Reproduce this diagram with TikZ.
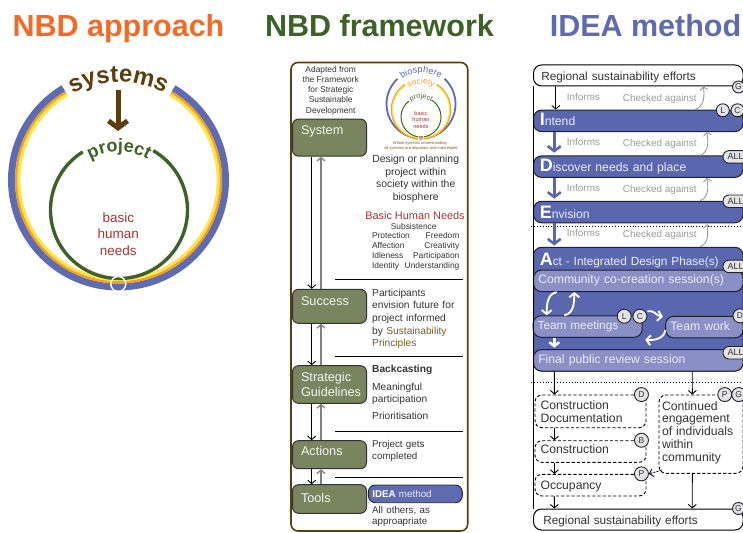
\documentclass[tikz,border=0pt]{standalone}
\usepackage{fontspec}
\setmainfont{Liberation Sans}
\usepackage{tikz}
\usetikzlibrary{arrows.meta,decorations.text}

\definecolor{nbdorange}{HTML}{F26A25}
\definecolor{nbdgreen}{HTML}{3D6127}
\definecolor{nbdblue}{HTML}{5F6BB1}
\definecolor{nbdbrown}{HTML}{5A3F0E}
\definecolor{nbdyellow}{HTML}{FFE34D}
\definecolor{nbdamber}{HTML}{F0A226}
\definecolor{nbdred}{HTML}{A83232}
\definecolor{nbdgold}{HTML}{7A5C1E}
\definecolor{boxgreen}{HTML}{78855F}
\definecolor{barblue}{HTML}{5A66AE}
\definecolor{barlight}{HTML}{8A8FC5}
\definecolor{barrim}{HTML}{22222E}
\definecolor{ink}{HTML}{333333}
\definecolor{faintgray}{HTML}{999999}
\definecolor{tagfill}{HTML}{E4E4E4}

\newcommand{\fs}[2]{\fontsize{#1}{#2}\selectfont}
\newcommand{\initial}[1]{{\color{white}\fontsize{18}{18}\bfseries\selectfont #1}}
% arc with a gap at the top: centre, colour, radius, width, from, to
\newcommand{\ringarc}[6]{\draw [#2, line width=#4pt] ([shift={(#5:#3)}]#1) arc [start angle=#5, end angle=#6, radius=#3];}
% text on an arc: centre, radius, text colour, font, text
\newcommand{\ringtext}[5]{\path [decorate, decoration={text along path, text align=center, text color=#3, text={|#4|#5}}] ([shift={(160:#2)}]#1) arc [start angle=160, end angle=20, radius=#2];}

\tikzstyle{title} = [font=\bfseries\fs{30.5}{32}, text height=23pt, text depth=7pt, inner sep=0pt]
\tikzstyle{frame} = [rectangle, draw=nbdbrown, line width=1.6pt, rounded corners=7pt, minimum width=176.7pt, minimum height=468.5pt]
\tikzstyle{greenblock} = [rectangle, draw=ink, line width=1pt, fill=boxgreen, rounded corners=6pt, minimum width=74pt, inner xsep=8.5pt, inner ysep=0pt,
    text width=57pt, align=left, text=white!92!boxgreen, font=\fs{12.7}{14.7}]
\tikzstyle{note} = [text=ink, inner sep=0pt, text width=90pt, align=left, font=\fs{10.2}{12.7}]
\tikzstyle{centrenote} = [text=ink, inner sep=0pt, align=center]
\tikzstyle{bar} = [rectangle, draw=barrim, line width=1pt, fill=barblue, rounded corners=8pt, minimum width=209.5pt, minimum height=21.5pt,
    inner xsep=6pt, inner ysep=0pt, text width=197pt, align=left, text=white!88!barblue, text height=13pt, font=\fs{12.2}{14}]
\tikzstyle{lightbar} = [bar, fill=barlight, inner xsep=4.5pt, text width=200pt, text height=9pt, text depth=3pt, font=\fs{12.2}{14}]
\tikzstyle{plainbar} = [rectangle, draw=black, line width=1pt, fill=white, rounded corners=8pt, minimum width=209.5pt, minimum height=21pt,
    inner xsep=7.5pt, inner ysep=0pt, text width=194pt, align=left, font=\fs{11.8}{14}, text=ink, text height=10pt, text depth=0pt]
\tikzstyle{dashblock} = [rectangle, draw=black, line width=0.9pt, dash pattern=on 3.2pt off 2pt, rounded corners=7pt, inner xsep=5.5pt, inner ysep=0pt,
    minimum width=111pt, text width=100pt, align=left, font=\fs{12.2}{12.9}, text=ink]
\tikzstyle{faint} = [text=faintgray, font=\fs{9.9}{11}, inner sep=0pt, text height=7.5pt, text depth=2pt, anchor=west]
\tikzstyle{tag} = [circle, draw=barrim, line width=0.9pt, fill=tagfill, minimum size=13pt, inner sep=0pt, font=\fs{8.5}{9}, text=ink]
\tikzstyle{pill} = [rectangle, draw=barrim, line width=0.9pt, fill=tagfill, rounded corners=6pt, minimum width=25pt, minimum height=12.5pt, inner sep=0pt,
    font=\fs{9}{10}, text=ink]
\tikzstyle{arrow} = [draw=black, -{Straight Barb[length=3.5pt,width=8pt]}, line width=0.9pt]
\tikzstyle{greyarrow} = [draw=gray, -{Straight Barb[length=3.5pt,width=8pt]}, line width=1.3pt]
\tikzstyle{faintarrow} = [draw=faintgray, -{Straight Barb[length=3pt,width=8pt]}, line width=0.9pt]
\tikzstyle{bluearrow} = [draw=barblue, -{Straight Barb[length=5pt,width=13pt]}, line width=2.6pt]
\tikzstyle{whitearrow} = [draw=white, -{Straight Barb[length=4pt,width=10pt]}, line width=1.9pt]
\tikzstyle{line} = [draw=black, line width=0.9pt]

\begin{document}
\begin{tikzpicture}[x=1pt, y=1pt]
      \useasboundingbox (0,0) rectangle (743,-532);

      % Titles
      \node [title, text=nbdorange] (approachTitle) at (118.5,-29) {NBD approach};
      \node [title, text=nbdgreen, right of=approachTitle, node distance=261pt] (frameworkTitle) {NBD framework};
      \node [title, text=nbdblue, right of=frameworkTitle, node distance=266pt] (methodTitle) {IDEA method};

      % NBD approach rings
      \coordinate (outerCentre) at (118.5,-180);
      \coordinate (innerCentre) at (119,-210);
      \ringarc{outerCentre}{nbdblue}{107}{7}{59}{-239}
      \ringarc{outerCentre}{nbdamber}{102.3}{2.6}{59}{-239}
      \ringarc{outerCentre}{nbdyellow}{99.6}{3}{59}{-239}
      \ringarc{innerCentre}{nbdgreen}{68.5}{3.4}{60}{-238}
      \node [circle, draw=white, line width=1.4pt, minimum size=15pt, inner sep=0pt] (bottomKnot) at (118.3,-284) {};
      \ringtext{outerCentre}{98}{nbdbrown}{\bfseries\fs{24}{25}}{systems}
      \ringtext{innerCentre}{58}{nbdgreen}{\bfseries\fs{18}{19}}{project}
      \node [coordinate] (systemsFoot) at (118,-90) {};
      \node [coordinate, below of=systemsFoot, node distance=41pt] (projectHead) {};
      \path [draw=nbdbrown, line width=5pt, -{Straight Barb[length=7pt,width=19pt]}] (systemsFoot) -- (projectHead);
      \node [text=nbdred, align=center, inner sep=0pt, font=\fs{13.5}{16.4}, above of=bottomKnot, node distance=50pt] (needsLabel) {basic\\human\\needs};

      % NBD framework column
      \node [frame] (frameBox) at (379.35,-296.75) {};
      \node [greenblock, minimum height=37pt, text height=9.5pt, text depth=16pt] (system) at (329.5,-137.6) {System};
      \node [greenblock, minimum height=34pt, text height=9.5pt, text depth=11.5pt, below of=system, node distance=168.7pt] (success) {Success};
      \node [greenblock, minimum height=37.6pt, below of=success, node distance=78.2pt] (guidelines) {Strategic\\\mbox{Guidelines}};
      \node [greenblock, minimum height=28pt, text height=9.5pt, text depth=8pt, below of=guidelines, node distance=70.2pt] (actions) {Actions};
      \node [greenblock, minimum height=28.6pt, text height=9.5pt, text depth=3pt, below of=actions, node distance=44.3pt] (tools) {Tools};

      \node [centrenote, font=\fs{8.4}{10.2}, above of=system, node distance=47pt, xshift=1.2pt] (adapted) {Adapted from\\the Framework\\for Strategic\\Sustainable\\Development};

      % small rings
      \coordinate (bioCentre) at (421,-104);
      \coordinate (socCentre) at (421,-109.5);
      \coordinate (proCentre) at (421,-117);
      \ringarc{bioCentre}{nbdblue}{34.5}{1.8}{47}{-227}
      \ringarc{socCentre}{nbdamber}{29.6}{1.3}{58}{-237}
      \ringarc{socCentre}{nbdyellow}{28.5}{1}{58}{-237}
      \ringarc{proCentre}{nbdgreen}{20}{1}{58}{-233}
      \node [circle, draw=white, line width=0.6pt, minimum size=6pt, inner sep=0pt] (smallKnot) at (421,-137.5) {};
      \ringtext{bioCentre}{31.5}{nbdblue}{\fs{9.2}{10}}{biosphere}
      \ringtext{socCentre}{25.5}{nbdamber}{\fs{8.2}{9}}{society}
      \ringtext{proCentre}{18.5}{nbdgreen}{\fs{7.2}{8}}{project}
      \node [text=nbdred, align=center, inner sep=0pt, font=\fs{5.6}{6.5}, above of=smallKnot, node distance=18pt] (smallNeeds) {basic\\human\\needs};
      \node [text=nbdgold, align=center, inner sep=0pt, font=\fs{4}{5}, below of=smallKnot, node distance=8.7pt] (logoCaption) {Whole systems understanding -\\all systems are important and interrelated};

      \node [centrenote, font=\fs{10.4}{12.5}, right of=system, node distance=86.2pt, yshift=-41.25pt] (design) {Design or planning\\project within\\society within the\\biosphere};
      \node [centrenote, text=nbdred, font=\fs{10.9}{12}, below of=design, node distance=36.5pt, xshift=-0.7pt] (needsTitle) {Basic Human Needs};
      \node [centrenote, font=\fs{8.4}{10}, below of=needsTitle, node distance=10.7pt, xshift=-1.3pt] (subsistence) {Subsistence};
      \node [note, font=\fs{8.4}{10}, text width=87.3pt, below of=subsistence, node distance=25pt, xshift=2pt] (needsList) {Protection\hfill Freedom\\Affection\hfill Creativity\\Idleness\hfill Participation\\Identity\hfill Understanding};

      \node [note, right of=success, node distance=42.5pt, anchor=west, yshift=-12.5pt] (successNote) {Participants\\envision future for\\project informed\\by {\color{nbdgold}Sustainability\\Principles}};
      \node [note, right of=guidelines, node distance=42.5pt, anchor=west, yshift=-8pt] (guidelinesNote) {\textbf{Backcasting}\\[4.7pt]Meaningful\\participation\\[4pt]Prioritisation};
      \node [note, font=\fs{9.8}{12}, right of=actions, node distance=42.5pt, anchor=west, yshift=3.4pt] (actionsNote) {Project gets\\completed};
      \node [rectangle, draw=barrim, line width=0.9pt, fill=nbdblue, rounded corners=7pt, minimum width=94pt, minimum height=17.7pt, inner xsep=4pt, inner ysep=0pt,
          text width=86pt, align=left, text=white!88!nbdblue, font=\fs{9.8}{11}, right of=tools, node distance=85.8pt, yshift=5.15pt] (ideaPill) {{\color{white}\textbf{IDEA}} method};
      \node [note, font=\fs{9.8}{11.6}, right of=tools, node distance=42.5pt, anchor=west, yshift=-17.5pt] (toolsNote) {All others, as\\approapriate};

      \foreach \y in {279.3,356.3,431.3,477.3}
          \draw [line] (335,-\y) -- (462.7,-\y);

      \path [arrow] ([xshift=-17.8pt]system.south) -- ([xshift=-17.8pt]success.north);
      \path [arrow] ([xshift=-17.8pt]success.south) -- ([xshift=-17.8pt]guidelines.north);
      \path [arrow] ([xshift=-17.8pt]guidelines.south) -- ([xshift=-17.8pt]actions.north);
      \path [arrow] ([xshift=-17.8pt]actions.south) -- ([xshift=-17.8pt]tools.north);
      \path [greyarrow] ([xshift=-8.5pt]success.north) -- ([xshift=-8.5pt]system.south);
      \path [greyarrow] ([xshift=-8.5pt]guidelines.north) -- ([xshift=-8.5pt]success.south);
      \path [greyarrow] ([xshift=-8.5pt]actions.north) -- ([xshift=-8.5pt]guidelines.south);
      \path [greyarrow] ([xshift=-8.5pt]tools.north) -- ([xshift=-8.5pt]actions.south);

      % IDEA method column
      \node [plainbar] (regionalTop) at (638.25,-75.5) {Regional sustainability efforts};
      \node [bar, text depth=3pt, below of=regionalTop, node distance=45.35pt] (intend) {\initial{I}ntend};
      \node [bar, below of=intend, node distance=45.8pt] (discover) {\initial{D}iscover needs and place};
      \node [bar, below of=discover, node distance=45.35pt] (envision) {\initial{E}nvision};
      \node [bar, minimum height=123.7pt, text depth=101pt, font=\fs{11.8}{14}, below of=envision, node distance=97.15pt] (act) {\initial{A}ct - Integrated Design Phase(s)};
      \node [lightbar, above of=act, node distance=28.3pt] (community) {Community co-creation session(s)};
      \node [lightbar, minimum width=108.2pt, text width=100pt, font=\fs{11.8}{14}, below of=community, node distance=45.65pt, xshift=-50.65pt] (teamMeetings) {Team meetings};
      \node [lightbar, minimum width=77.3pt, text width=68pt, right of=teamMeetings, node distance=116.75pt, yshift=-0.6pt] (teamWork) {Team work};
      \node [lightbar, below of=act, node distance=51.2pt] (finalReview) {Final public review session};

      \node [dashblock, minimum height=32.7pt, below of=finalReview, node distance=51pt, xshift=-47.75pt] (constructionDoc) {Construction\\Documentation};
      \node [dashblock, minimum height=21.6pt, text depth=4pt, below of=constructionDoc, node distance=40.15pt] (construction) {Construction};
      \node [dashblock, minimum height=21.7pt, text depth=0pt, below of=construction, node distance=33.65pt] (occupancy) {Occupancy};
      \node [dashblock, minimum width=84pt, minimum height=78.3pt, text width=78pt, inner xsep=3pt, text depth=57pt, below of=finalReview, node distance=73.8pt, xshift=62.75pt] (continued) {Continued\\engagement\\of individuals\\within\\community};
      \node [plainbar, inner xsep=9.5pt, text width=190pt, below of=occupancy, node distance=34.35pt, xshift=47.75pt] (regionalBottom) {Regional sustainability efforts};

      % side line
      \path [line] (regionalTop.south west) -- (regionalBottom.north west);

      % tags
      \node [tag, minimum size=12pt] (tagTopG) at ([xshift=-5pt,yshift=-0.5pt]regionalTop.south east) {G};
      \node [tag] (tagIntendL) at ([xshift=-20.7pt,yshift=-0.7pt]intend.north east) {L};
      \node [tag] (tagIntendC) at ([xshift=-6pt,yshift=-0.7pt]intend.north east) {C};
      \node [pill] (tagDiscover) at ([xshift=-8pt,yshift=-1.5pt]discover.north east) {ALL};
      \node [pill] (tagEnvision) at ([xshift=-8pt,yshift=-0.5pt]envision.north east) {ALL};
      \node [pill] (tagAct) at ([xshift=-8pt,yshift=3.2pt]community.north east) {ALL};
      \node [tag, minimum size=14pt] (tagMeetL) at ([xshift=-18.4pt,yshift=-1pt]teamMeetings.north east) {L};
      \node [tag, minimum size=14pt] (tagMeetC) at ([xshift=-2.7pt,yshift=-1pt]teamMeetings.north east) {C};
      \node [tag, minimum size=14pt] (tagWorkD) at ([xshift=-3.5pt]teamWork.north east) {D};
      \node [pill] (tagFinal) at ([xshift=-8pt,yshift=-3.6pt]finalReview.north east) {ALL};
      \node [tag, minimum size=14pt] (tagDocD) at ([xshift=-5pt]constructionDoc.north east) {D};
      \node [tag, minimum size=14pt] (tagBuildB) at ([xshift=-5pt]construction.north east) {B};
      \node [tag, minimum size=14pt] (tagOccP) at ([xshift=-5pt]occupancy.north east) {P};
      \node [tag, minimum size=14pt] (tagContP) at ([xshift=-18.7pt]continued.north east) {P};
      \node [tag, minimum size=14pt] (tagContG) at ([xshift=-4.7pt]continued.north east) {G};
      \node [tag, minimum size=12pt] (tagBottomG) at ([xshift=-5pt]regionalBottom.north east) {G};

      % row labels
      \node [faint, below of=regionalTop, node distance=22.2pt, xshift=-71.5pt, anchor=west] (informsOne) {Informs};
      \node [faint, below of=regionalTop, node distance=23.2pt, xshift=-15.5pt, anchor=west] (checkedOne) {Checked against};
      \node [faint, below of=intend, node distance=21.8pt, xshift=-71.5pt, anchor=west] (informsTwo) {Informs};
      \node [faint, below of=intend, node distance=22.8pt, xshift=-15.5pt, anchor=west] (checkedTwo) {Checked against};
      \node [faint, below of=discover, node distance=22pt, xshift=-71.5pt, anchor=west] (informsThree) {Informs};
      \node [faint, below of=discover, node distance=23pt, xshift=-15.5pt, anchor=west] (checkedThree) {Checked against};
      \node [faint, below of=envision, node distance=21.3pt, xshift=-71.5pt, anchor=west] (informsFour) {Informs};
      \node [faint, below of=envision, node distance=22.3pt, xshift=-15.5pt, anchor=west] (checkedFour) {Checked against};

      \draw [line, dotted] (531,-226) -- (743,-226);
      \draw [line, dotted] (531,-382.3) -- (743,-382.3);

      \path [arrow] ([xshift=-82.5pt]regionalTop.south) -- ([xshift=-82.5pt]intend.north);
      \path [bluearrow] ([xshift=-84pt]intend.south) -- ([xshift=-84pt,yshift=2.7pt]discover.north);
      \path [bluearrow] ([xshift=-84pt]discover.south) -- ([xshift=-84pt,yshift=2pt]envision.north);
      \path [bluearrow] ([xshift=-84pt]envision.south) -- ([xshift=-84pt,yshift=1.3pt]act.north);

      \path [faintarrow] ([xshift=56.8pt]intend.north) to [out=20,in=-80] ([xshift=65pt]regionalTop.south);
      \path [faintarrow] ([xshift=61.8pt]discover.north) to [out=20,in=-80] ([xshift=68.5pt]intend.south);
      \path [faintarrow] ([xshift=61.8pt]envision.north) to [out=20,in=-80] ([xshift=68.5pt]discover.south);
      \path [faintarrow] ([xshift=61.8pt]act.north) to [out=20,in=-80] ([xshift=68.5pt,yshift=-1pt]envision.south);

      \path [whitearrow] ([xshift=-81.5pt]community.south) to [out=190,in=90] ([xshift=-40.9pt]teamMeetings.north);
      \path [whitearrow] ([xshift=-23.3pt]teamMeetings.north) to [out=10,in=-90] ([xshift=-64pt]community.south);
      \path [whitearrow] ([yshift=5pt]tagMeetC.east) to [out=15,in=170] ([xshift=-2.4pt,yshift=10.3pt]teamWork.west);
      \path [whitearrow] ([yshift=-3pt]teamWork.west) to [out=-95,in=-5] ([xshift=2.7pt,yshift=-2pt]teamMeetings.south east);
      \path [whitearrow, line width=2.4pt] ([xshift=-33.3pt]teamMeetings.south) -- ([xshift=-33.3pt,yshift=-10pt]teamMeetings.south);

      \path [arrow] ([xshift=-83.9pt]finalReview.south) -- ([xshift=-36.1pt]constructionDoc.north);
      \path [arrow] ([xshift=54pt]finalReview.south) -- ([xshift=-8.7pt]continued.north);
      \path [arrow] ([xshift=-36.1pt]constructionDoc.south) -- ([xshift=-36.1pt]construction.north);
      \path [arrow] ([xshift=-36.1pt]construction.south) -- ([xshift=-36.1pt]occupancy.north);
      \path [arrow] ([xshift=-36.1pt]occupancy.south) -- ([xshift=-83.9pt]regionalBottom.north);
      \path [arrow] ([xshift=-8.7pt]continued.south) -- ([xshift=54pt]regionalBottom.north);
      \path [arrow, dash pattern=on 2pt off 1.2pt] ([xshift=3pt,yshift=3.5pt]continued.south west) -- (tagOccP.east);

\end{tikzpicture}
\end{document}
